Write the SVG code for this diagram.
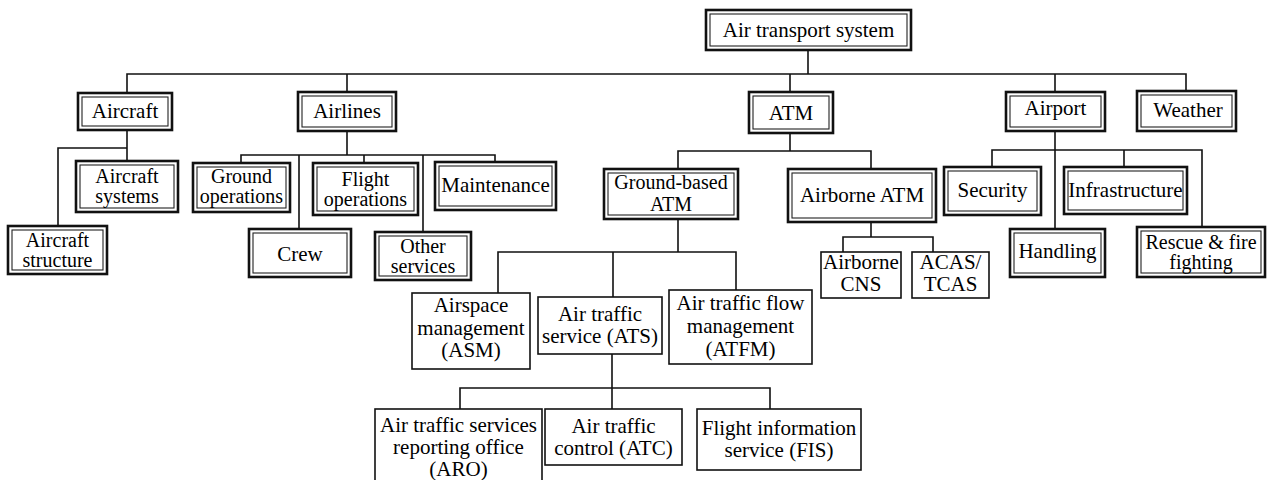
<svg xmlns="http://www.w3.org/2000/svg" width="1268" height="480" viewBox="0 0 1268 480">
  <style>
    .bg { fill: #ffffff; }
    .wire { fill: none; stroke: #111; stroke-width: 1.6; stroke-linecap: square; }
    .outer { fill: #ffffff; stroke: #111; stroke-width: 2.6; }
    .inner { fill: none; stroke: #222; stroke-width: 1.1; }
    .single { fill: #ffffff; stroke: #111; stroke-width: 1.6; }
    .lbl { font-family: "Liberation Serif", "Times New Roman", serif; font-size: 21px; fill: #000; text-anchor: middle; }
    .sm { font-size: 20px; }
  </style>

  <rect class="bg" x="0" y="0" width="1268" height="480"/>

  <!-- tree connectors -->
  <g id="connectors">
    <!-- root to first level -->
    <path class="wire" d="M808,51 V74 M127,74 H1186 M127,74 V92 M347,74 V91 M790,74 V91 M1055,74 V91 M1186,74 V90"/>
    <!-- Aircraft -->
    <path class="wire" d="M127,130 V160 M58,148 H127 M58,148 V225"/>
    <!-- Airlines -->
    <path class="wire" d="M347,132 V155 M241,155 H495 M241,155 V162 M299,155 V228 M364,155 V162 M423,155 V231 M495,155 V161"/>
    <!-- ATM -->
    <path class="wire" d="M790,134 V151 M678,151 H871 M678,151 V168 M871,151 V168"/>
    <!-- Ground-based ATM -->
    <path class="wire" d="M678,220 V252 M498,252 H736 M498,252 V293 M613,252 V297 M736,252 V290"/>
    <!-- Air traffic service -->
    <path class="wire" d="M612,354 V388 M460,388 H770 M460,388 V409 M612,388 V409 M770,388 V409"/>
    <!-- Airborne ATM -->
    <path class="wire" d="M871,223 V237 M843,237 H933 M843,237 V252 M933,237 V252"/>
    <!-- Airport -->
    <path class="wire" d="M1055,132 V228 M992,150 H1202 M992,150 V166 M1124,150 V166 M1202,150 V226"/>
  </g>

  <!-- root -->
  <g id="air-transport-system">
    <rect class="outer" x="706" y="10" width="205" height="40"/>
    <rect class="inner" x="710" y="14" width="197" height="32"/>
    <text class="lbl" x="808.5" y="37">Air transport system</text>
  </g>

  <!-- first level -->
  <g id="aircraft">
    <rect class="outer" x="78" y="93" width="94" height="37"/>
    <rect class="inner" x="82" y="97" width="86" height="29"/>
    <text class="lbl" x="125" y="118">Aircraft</text>
  </g>
  <g id="airlines">
    <rect class="outer" x="298" y="92" width="98" height="39"/>
    <rect class="inner" x="302" y="96" width="90" height="31"/>
    <text class="lbl" x="347" y="118">Airlines</text>
  </g>
  <g id="atm">
    <rect class="outer" x="749" y="92" width="84" height="41"/>
    <rect class="inner" x="753" y="96" width="76" height="33"/>
    <text class="lbl" x="791" y="120">ATM</text>
  </g>
  <g id="airport">
    <rect class="outer" x="1006" y="92" width="99" height="39"/>
    <rect class="inner" x="1010" y="96" width="91" height="31"/>
    <text class="lbl" x="1055.5" y="115">Airport</text>
  </g>
  <g id="weather">
    <rect class="outer" x="1137" y="91" width="99" height="40"/>
    <rect class="inner" x="1141" y="95" width="91" height="32"/>
    <text class="lbl" x="1188" y="117">Weather</text>
  </g>

  <!-- Aircraft branch -->
  <g id="aircraft-systems">
    <rect class="outer" x="76" y="161" width="102" height="51"/>
    <rect class="inner" x="80" y="165" width="94" height="43"/>
    <text class="lbl sm" x="127" y="183">Aircraft</text>
    <text class="lbl sm" x="127" y="203">systems</text>
  </g>
  <g id="aircraft-structure">
    <rect class="outer" x="8" y="226" width="99" height="48"/>
    <rect class="inner" x="12" y="230" width="91" height="40"/>
    <text class="lbl sm" x="57.5" y="247">Aircraft</text>
    <text class="lbl sm" x="57.5" y="267">structure</text>
  </g>

  <!-- Airlines branch -->
  <g id="ground-operations">
    <rect class="outer" x="193" y="163" width="97" height="49"/>
    <rect class="inner" x="197" y="167" width="89" height="41"/>
    <text class="lbl sm" x="241.5" y="183">Ground</text>
    <text class="lbl sm" x="241.5" y="203">operations</text>
  </g>
  <g id="crew">
    <rect class="outer" x="249" y="229" width="102" height="48"/>
    <rect class="inner" x="253" y="233" width="94" height="40"/>
    <text class="lbl" x="300" y="261">Crew</text>
  </g>
  <g id="flight-operations">
    <rect class="outer" x="313" y="163" width="105" height="52"/>
    <rect class="inner" x="317" y="167" width="97" height="44"/>
    <text class="lbl sm" x="365.5" y="186">Flight</text>
    <text class="lbl sm" x="365.5" y="206">operations</text>
  </g>
  <g id="other-services">
    <rect class="outer" x="375" y="232" width="96" height="48"/>
    <rect class="inner" x="379" y="236" width="88" height="40"/>
    <text class="lbl sm" x="423" y="253">Other</text>
    <text class="lbl sm" x="423" y="273">services</text>
  </g>
  <g id="maintenance">
    <rect class="outer" x="435" y="162" width="121" height="48"/>
    <rect class="inner" x="439" y="166" width="113" height="40"/>
    <text class="lbl" x="495.5" y="192">Maintenance</text>
  </g>

  <!-- ATM branch -->
  <g id="ground-based-atm">
    <rect class="outer" x="604" y="169" width="134" height="50"/>
    <rect class="inner" x="608" y="173" width="126" height="42"/>
    <text class="lbl sm" x="671" y="189">Ground-based</text>
    <text class="lbl sm" x="671" y="211">ATM</text>
  </g>
  <g id="airborne-atm">
    <rect class="outer" x="788" y="169" width="148" height="53"/>
    <rect class="inner" x="792" y="173" width="140" height="45"/>
    <text class="lbl" x="862" y="202">Airborne ATM</text>
  </g>

  <!-- Ground-based ATM functions -->
  <g id="asm">
    <rect class="single" x="412" y="293" width="118" height="76"/>
    <text class="lbl" x="471" y="312">Airspace</text>
    <text class="lbl" x="471" y="335">management</text>
    <text class="lbl" x="471" y="357">(ASM)</text>
  </g>
  <g id="ats">
    <rect class="single" x="538" y="297" width="124" height="57"/>
    <text class="lbl" x="600" y="321">Air traffic</text>
    <text class="lbl" x="600" y="343">service (ATS)</text>
  </g>
  <g id="atfm">
    <rect class="single" x="669" y="290" width="143" height="74"/>
    <text class="lbl" x="740.5" y="310">Air traffic flow</text>
    <text class="lbl" x="740.5" y="333">management</text>
    <text class="lbl" x="740.5" y="356">(ATFM)</text>
  </g>

  <!-- Air traffic service units -->
  <g id="aro">
    <rect class="single" x="375" y="409" width="167" height="76"/>
    <text class="lbl" x="458.5" y="432">Air traffic services</text>
    <text class="lbl" x="458.5" y="454">reporting office</text>
    <text class="lbl" x="458.5" y="476">(ARO)</text>
  </g>
  <g id="atc">
    <rect class="single" x="545" y="409" width="137" height="56"/>
    <text class="lbl" x="613.5" y="433">Air traffic</text>
    <text class="lbl" x="613.5" y="455">control (ATC)</text>
  </g>
  <g id="fis">
    <rect class="single" x="697" y="409" width="164" height="61"/>
    <text class="lbl" x="779" y="435">Flight information</text>
    <text class="lbl" x="779" y="457">service (FIS)</text>
  </g>

  <!-- Airborne ATM equipment -->
  <g id="airborne-cns">
    <rect class="single" x="821" y="252" width="80" height="46"/>
    <text class="lbl" x="861" y="269">Airborne</text>
    <text class="lbl" x="861" y="291">CNS</text>
  </g>
  <g id="acas-tcas">
    <rect class="single" x="912" y="252" width="77" height="46"/>
    <text class="lbl" x="950.5" y="269">ACAS/</text>
    <text class="lbl" x="950.5" y="291">TCAS</text>
  </g>

  <!-- Airport branch -->
  <g id="security">
    <rect class="outer" x="944" y="167" width="97" height="48"/>
    <rect class="inner" x="948" y="171" width="89" height="40"/>
    <text class="lbl" x="992.5" y="197">Security</text>
  </g>
  <g id="infrastructure">
    <rect class="outer" x="1064" y="167" width="123" height="47"/>
    <rect class="inner" x="1068" y="171" width="115" height="39"/>
    <text class="lbl" x="1125.5" y="197">Infrastructure</text>
  </g>
  <g id="handling">
    <rect class="outer" x="1010" y="229" width="95" height="48"/>
    <rect class="inner" x="1014" y="233" width="87" height="40"/>
    <text class="lbl" x="1057.5" y="258">Handling</text>
  </g>
  <g id="rescue-fire-fighting">
    <rect class="outer" x="1137" y="227" width="128" height="50"/>
    <rect class="inner" x="1141" y="231" width="120" height="42"/>
    <text class="lbl sm" x="1201" y="249">Rescue &amp; fire</text>
    <text class="lbl sm" x="1201" y="269">fighting</text>
  </g>
</svg>
